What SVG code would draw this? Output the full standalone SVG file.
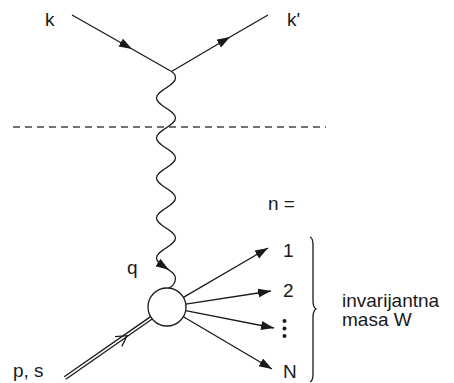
<svg xmlns="http://www.w3.org/2000/svg" width="454" height="383" viewBox="0 0 454 383">
<style>
.ln{fill:none;stroke:#1a1a1a;stroke-width:1.3}
.t{font-family:"Liberation Sans",Arial,sans-serif;font-size:19px;fill:#1a1a1a}
</style>
<defs>
<marker id="ah" markerUnits="userSpaceOnUse" markerWidth="14" markerHeight="10" refX="13" refY="4.5" orient="auto">
<path d="M0,0 L13,4.5 L0,9 Z" fill="#1a1a1a"/>
</marker>
</defs>
<rect width="454" height="383" fill="#fff"/>
<g id="connectors">
<path id="e-k" class="ln" d="M72,15 L132,49 L171.5,71.5" marker-mid="url(#ah)"/>
<path id="e-kp" class="ln" d="M171.5,71.5 L230,37 L268,15" marker-mid="url(#ah)"/>
<path id="e-q" class="ln" d="M171.5,71.5 C174,73 175.5,75 175.5,78 C175.5,86 156.5,90 156.5,98 C156.5,106 175.5,110 175.5,118 C175.5,126 156.5,130 156.5,138 C156.5,146 175.5,150 175.5,158 C175.5,166 156.5,170 156.5,178 C156.5,186 175.5,190 175.5,198 C175.5,206 156.5,210 156.5,218 C156.5,226 175.5,230 175.5,238 C175.5,246 156.5,250 156.5,258 C156.5,266 175.5,270 175.5,278 C175.5,283 172,287 168,288.5"/>
<path class="ln" d="M164.6,267 L168.8,269.8" marker-end="url(#ah)"/>
<path id="cut" fill="none" stroke="#444" stroke-width="1.3" stroke-dasharray="7,5" d="M13,127 L326,127"/>
<g id="e-p">
<path class="ln" d="M64.2,376.8 L150.6,316.6"/>
<path class="ln" d="M65.8,379.2 L152.2,319"/>
<path class="ln" d="M115,336.6 L127,335.7 L121.8,346.5"/>
</g>
<path id="e-1" class="ln" d="M183.4,297.4 L268,248" marker-end="url(#ah)"/>
<path id="e-2" class="ln" d="M185.8,304.1 L271,291" marker-end="url(#ah)"/>
<path id="e-3" class="ln" d="M185.6,310.7 L274,328" marker-end="url(#ah)"/>
<path id="e-N" class="ln" d="M183.4,316.7 L272,369" marker-end="url(#ah)"/>
<path id="brace" class="ln" d="M310,237 C312.5,238 313,241 313,245 L313,300 C313,305 314,308 316,309 C314,310 313,313 313,318 L313,374 C313,378 312.5,381 310,382"/>
</g>
<g id="blob"><circle cx="167" cy="307" r="19" fill="#fff" stroke="#1a1a1a" stroke-width="1.3"/></g>
<g id="labels">
<text class="t" x="45" y="25.5">k</text>
<text class="t" x="287" y="26">k'</text>
<text class="t" x="127" y="274">q</text>
<text class="t" x="13" y="377">p, s</text>
<text class="t" x="268" y="210">n =</text>
<text class="t" x="283" y="257">1</text>
<text class="t" x="283" y="297">2</text>
<g id="dots" fill="#1a1a1a"><circle cx="284.5" cy="321" r="2"/><circle cx="284.5" cy="328.5" r="2"/><circle cx="284.5" cy="336" r="2"/></g>
<text class="t" x="283" y="378">N</text>
<text class="t" x="342" y="307">invarijantna</text>
<text class="t" x="342" y="326">masa W</text>
</g>
</svg>
